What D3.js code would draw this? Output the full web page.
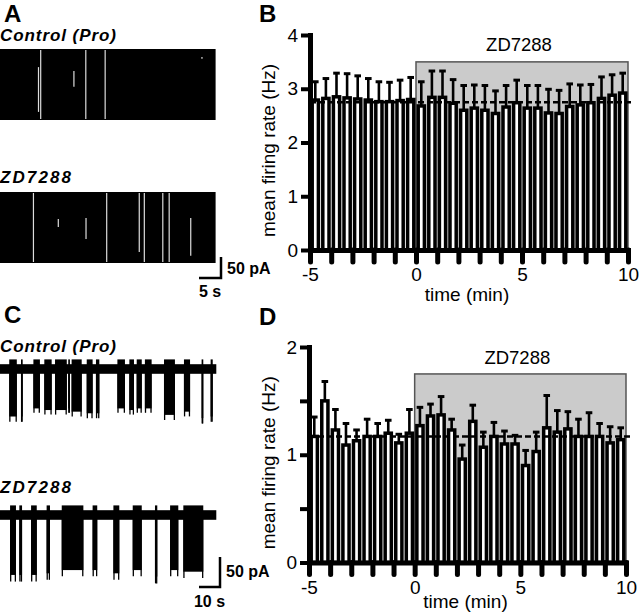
<!DOCTYPE html>
<html><head><meta charset="utf-8">
<script src="https://cdn.jsdelivr.net/npm/d3@7"></script>
<style>body{margin:0;background:#fff}svg{display:block}text{font-family:"Liberation Sans",Arial,Helvetica,sans-serif}</style>
</head><body><svg id="fig" width="640" height="615"></svg>
<script>
// ---------- data ----------
const timeBins = [-4.75,-4.25,-3.75,-3.25,-2.75,-2.25,-1.75,-1.25,-0.75,-0.25,0.25,0.75,1.25,1.75,2.25,2.75,3.25,3.75,4.25,4.75,5.25,5.75,6.25,6.75,7.25,7.75,8.25,8.75,9.25,9.75];
const rateB = [2.79,2.82,2.85,2.83,2.81,2.79,2.76,2.76,2.78,2.80,2.68,2.84,2.84,2.73,2.60,2.64,2.60,2.54,2.66,2.74,2.64,2.64,2.55,2.54,2.67,2.70,2.74,2.82,2.88,2.92];
const semB  = [0.34,0.37,0.44,0.45,0.43,0.40,0.37,0.36,0.38,0.41,0.45,0.49,0.49,0.44,0.46,0.43,0.46,0.42,0.40,0.42,0.42,0.42,0.44,0.43,0.42,0.37,0.34,0.40,0.38,0.37];
const rateD = [1.17,1.50,1.23,1.09,1.13,1.17,1.17,1.20,1.11,1.20,1.27,1.36,1.37,1.23,0.96,1.31,1.07,1.17,1.10,1.10,0.90,1.03,1.25,1.21,1.24,1.17,1.17,1.17,1.11,1.14];
const semD  = [0.18,0.18,0.19,0.20,0.10,0.16,0.12,0.12,0.08,0.22,0.17,0.11,0.17,0.10,0.13,0.15,0.14,0.13,0.12,0.08,0.14,0.18,0.30,0.20,0.16,0.16,0.22,0.12,0.15,0.11];
const controlMeanB = 2.75, controlMeanD = 1.17;
const drugWindow = [0, 10];
const drugBoxTopB = 3.5, drugBoxTopD = 1.75;
const drugLabel = "ZD7288";
const yTicksB = [0,1,2,3,4];
const yTicksD = [0,0.5,1,1.5,2];
const xTicks = [-5,-4,-3,-2,-1,0,1,2,3,4,5,6,7,8,9,10];
const xLabelled = [-5,0,5,10];

// Panel A traces: white gaps in dense firing [time s, from pA, to pA]
const traceA_len = 49; const traceA_depth = -170;
const gapsA1 = [[8.75,-41,-153],[9.25,0,-170],[16.8,-50,-93],[19.5,0,-170],[23.9,0,-170],[45.9,-17,-26]];
const gapsA2 = [[7.6,0,-170],[13.25,-62,-86],[19.55,-60,-115],[24.25,0,-170],[31.65,0,-146],[32.8,0,-170],[37.0,0,-170],[38.45,0,-170],[43.35,-60,-155]];
// Panel C traces: bursts [start s, end s, peak pA]
const traceC_len = 103;
const burstsC1 = [[4.4,8.0,-88],[10.0,10.8,-88],[15.9,19.0,-73],[21.1,24.6,-76],[26.2,31.8,-76],[32.5,33.3,-73],[34.1,38.9,-79],[41.3,44.1,-82],[45.7,47.3,-82],[55.9,59.5,-73],[61.6,63.8,-76],[65.1,67.5,-73],[69.0,72.2,-73],[78.1,83.3,-85],[87.6,90.5,-79],[96.0,96.8,-91],[100.3,101.3,-88]];
const burstsC2 = [[4.8,7.6,-111],[9.2,10.5,-111],[14.8,17.5,-111],[22.2,23.8,-108],[29.4,39.7,-102],[44.1,46.3,-102],[54.0,56.8,-108],[63.2,67.5,-102],[73.8,74.9,-114],[81.0,84.9,-102],[87.3,96.8,-105]];
const scaleA = {pA:50, s:5, sLabel:"5 s", pALabel:"50 pA"};
const scaleC = {pA:50, s:10, sLabel:"10 s", pALabel:"50 pA"};

// ---------- drawing ----------
const svg = d3.select("#fig");
svg.append("rect").attr("width",640).attr("height",615).attr("fill","#fff");

function barPanel(cfg){
  const g = svg.append("g");
  const x = d3.scaleLinear().domain([-5,10]).range(cfg.xr);
  const y = d3.scaleLinear().domain([0,cfg.ymax]).range(cfg.yr);
  g.append("rect").attr("x",x(drugWindow[0])).attr("y",y(cfg.boxTop))
    .attr("width",x(drugWindow[1])-x(drugWindow[0])).attr("height",y(0)-y(cfg.boxTop))
    .attr("fill","#cbcbcb").attr("stroke","#555").attr("stroke-width",1.5);
  g.append("text").attr("x",x(5)-3).attr("y",cfg.labelY).attr("text-anchor","middle")
    .attr("font-size",18.5).text(drugLabel);
  const step = x(0.5)-x(0);
  const sw = 3.5;
  const w = step - 0.9 - sw;
  const data = timeBins.map((t,i)=>({t, v:cfg.vals[i], e:cfg.sems[i]}));
  g.selectAll(".bar").data(data).join("rect")
    .attr("x",d=>x(d.t)-w/2).attr("y",d=>y(d.v)).attr("width",w).attr("height",d=>y(0)-y(d.v))
    .attr("fill","#fff").attr("stroke","#000").attr("stroke-width",sw);
  g.selectAll(".eb").data(data).join("line")
    .attr("x1",d=>x(d.t)).attr("x2",d=>x(d.t)).attr("y1",d=>y(d.v)).attr("y2",d=>y(d.v+d.e))
    .attr("stroke","#000").attr("stroke-width",2.6);
  g.selectAll(".cap").data(data).join("line")
    .attr("x1",d=>x(d.t)-3.3).attr("x2",d=>x(d.t)+3.3).attr("y1",d=>y(d.v+d.e)).attr("y2",d=>y(d.v+d.e))
    .attr("stroke","#000").attr("stroke-width",3);
  g.append("line").attr("x1",x(-5)).attr("x2",x(10)+6).attr("y1",y(cfg.ctrl)).attr("y2",y(cfg.ctrl))
    .attr("stroke","#000").attr("stroke-width",2.6).attr("stroke-dasharray","6,3");
  const ya = g.append("g").attr("transform",`translate(${x(-5)},0)`)
    .call(d3.axisLeft(y).tickValues(cfg.yticks).tickSize(9).tickPadding(3).tickSizeOuter(0)
      .tickFormat(d=>Number.isInteger(d)?String(d):""));
  const xa = g.append("g").attr("transform",`translate(0,${y(0)})`)
    .call(d3.axisBottom(x).tickValues(xTicks).tickSize(12).tickPadding(6).tickSizeOuter(0)
      .tickFormat(d=>xLabelled.includes(d)?String(d):""));
  [ya,xa].forEach(a=>{
    a.select(".domain").attr("stroke-width",5).attr("stroke-linecap","square");
    a.selectAll(".tick text").attr("font-size",19).attr("fill","#000").attr("font-family",'"Liberation Sans",Arial,sans-serif');
  });
  ya.selectAll(".tick line").attr("stroke-width",4);
  xa.selectAll(".tick line").attr("stroke-width",5).attr("stroke-linecap","round");
  g.append("text").attr("transform",`translate(${cfg.ytX},${(y(0)+y(cfg.ymax))/2+8}) rotate(-90)`)
    .attr("text-anchor","middle").attr("font-size",19).text("mean firing rate (Hz)");
  g.append("text").attr("x",(x(-5)+x(10))/2-2).attr("y",cfg.xtY).attr("text-anchor","middle")
    .attr("font-size",19).text("time (min)");
}

barPanel({xr:[310,628], yr:[250,35], ymax:4, yticks:yTicksB, vals:rateB, sems:semB, ctrl:controlMeanB, boxTop:drugBoxTopB, labelY:51, ytX:275, xtY:301});
barPanel({xr:[309,626], yr:[562.5,347], ymax:2, yticks:yTicksD, vals:rateD, sems:semD, ctrl:controlMeanD, boxTop:drugBoxTopD, labelY:364, ytX:275, xtY:608});

// panel letters
[["A",4,22],["B",259,22],["C",4,323],["D",259,325]].forEach(([t,x,y])=>
  svg.append("text").attr("x",x).attr("y",y).attr("font-size",24).attr("font-weight","bold").text(t));

// labels above traces
[["Control (Pro)",41],["ZD7288",183],["Control (Pro)",352],["ZD7288",493]].forEach(([t,y])=>
  svg.append("text").attr("x",0).attr("y",y).attr("font-size",17).attr("font-style","italic").attr("font-weight","bold").attr("textLength", t==="ZD7288"?71:116).text(t));

// ---- Panel A traces ----
const tA = d3.scaleLinear().domain([0,traceA_len]).range([0,215.6]);
function traceA(top, gaps){
  const yA = d3.scaleLinear().domain([0,traceA_depth]).range([top, top+71]);
  svg.append("rect").attr("x",tA(0)).attr("y",yA(0)).attr("width",tA(traceA_len)-tA(0)).attr("height",yA(traceA_depth)-yA(0)).attr("fill","#000");
  svg.selectAll(null).data(gaps).join("line")
    .attr("x1",d=>tA(d[0])).attr("x2",d=>tA(d[0])).attr("y1",d=>yA(d[1])+1).attr("y2",d=>yA(d[2])-1)
    .attr("stroke","#ddd").attr("stroke-width",1.2);
  return yA;
}
traceA(49, gapsA1);
const yA2 = traceA(192, gapsA2);
function scaleBar(tS, yS, x0, yBottom, sc, pALabelY, sLabelY){
  const xe = x0, xs = x0 - (tS(sc.s)-tS(0));
  const yTop = yBottom - (yS(-sc.pA)-yS(0));
  svg.append("path").attr("d",`M${xs},${yBottom}H${xe}V${yTop}`).attr("fill","none").attr("stroke","#000").attr("stroke-width",2.5);
  svg.append("text").attr("x",xe+6).attr("y",pALabelY).attr("font-size",16).attr("font-weight","bold").text(sc.pALabel);
  svg.append("text").attr("x",(xs+xe)/2).attr("y",sLabelY).attr("text-anchor","middle").attr("font-size",16).attr("font-weight","bold").text(sc.sLabel);
}
scaleBar(tA, yA2, 221, 278, scaleA, 274, 297);

// ---- Panel C traces ----
const tC = d3.scaleLinear().domain([0,traceC_len]).range([0,216.3]);
function traceC(base, bursts){
  const yC = d3.scaleLinear().domain([0,-100]).range([base, base+60]);
  const g = svg.append("g");
  g.append("rect").attr("x",tC(0)).attr("y",yC(8)).attr("width",tC(traceC_len)-tC(0)).attr("height",yC(-8)-yC(8)).attr("fill","#000");
  g.selectAll(".bump").data(bursts).join("rect")
    .attr("x",d=>tC(d[0])).attr("y",yC(16)).attr("width",d=>Math.max(1.5,tC(d[1])-tC(d[0]))).attr("height",yC(0)-yC(16)).attr("fill","#000");
  g.selectAll(".body").data(bursts).join("rect")
    .attr("x",d=>tC(d[0])).attr("y",yC(0)).attr("width",d=>Math.max(1.5,tC(d[1])-tC(d[0]))).attr("height",d=>yC(d[2]*0.9)-yC(0)).attr("fill","#000");
  g.selectAll(".s1").data(bursts).join("line")
    .attr("x1",d=>tC(d[0])+0.6).attr("x2",d=>tC(d[0])+0.6).attr("y1",yC(0)).attr("y2",d=>yC(d[2]))
    .attr("stroke","#000").attr("stroke-width",1.3);
  g.selectAll(".s2").data(bursts).join("line")
    .attr("x1",d=>tC(d[1])-0.6).attr("x2",d=>tC(d[1])-0.6).attr("y1",yC(0)).attr("y2",d=>yC(d[2]))
    .attr("stroke","#000").attr("stroke-width",1.3);
  return yC;
}
traceC(369, burstsC1);
const yC2 = traceC(515, burstsC2);
scaleBar(tC, yC2, 220, 587, scaleC, 577, 607);
</script></body></html>
